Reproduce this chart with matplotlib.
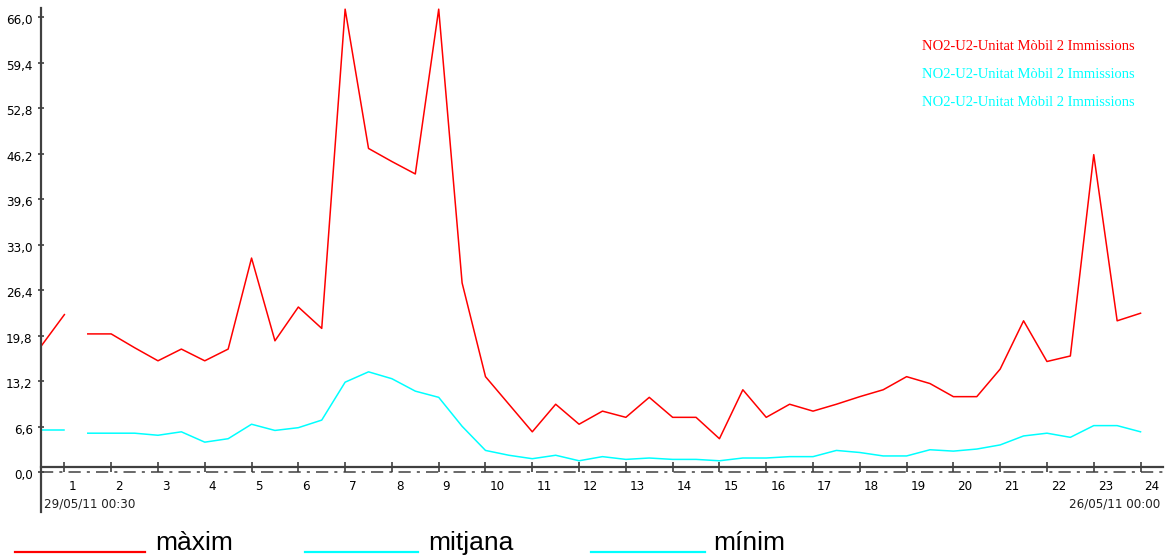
import numpy as np
from matplotlib import pyplot as plt
from matplotlib.lines import Line2D
import matplotlib.transforms as mtransforms

# half-hourly positions on the 1..24 axis
hours = np.arange(0.5, 24.01, 0.5)
maxim = [18.3, 22.9, 20.1, 20.1, 18.1, 16.2, 17.9, 16.2, 17.9, 31.1, 19.1, 24.0,
         20.9, 67.2, 47.0, 45.1, 43.3, 67.2, 27.5, 13.9, 9.9, 5.9, 9.9, 7.0,
         8.9, 8.0, 10.9, 8.0, 8.0, 4.9, 12.0, 8.0, 9.9, 8.9, 9.9, 11.0,
         12.0, 13.9, 12.9, 11.0, 11.0, 15.0, 22.0, 16.1, 16.9, 46.1, 22.0, 23.1]
mitjana = [6.1, 6.1, 5.7, 5.7, 5.7, 5.4, 5.9, 4.4, 4.9, 7.0, 6.1, 6.5,
           7.6, 13.1, 14.6, 13.6, 11.8, 10.9, 6.7, 3.2, 2.5, 2.0, 2.5, 1.7,
           2.3, 1.9, 2.1, 1.9, 1.9, 1.7, 2.1, 2.1, 2.3, 2.3, 3.2, 2.9,
           2.4, 2.4, 3.3, 3.1, 3.4, 4.0, 5.3, 5.7, 5.1, 6.8, 6.8, 5.9]
gap_after = 2  # no data between the 2nd and 3rd sample

yticks = [0.0, 6.6, 13.2, 19.8, 26.4, 33.0, 39.6, 46.2, 52.8, 59.4, 66.0]
xticks = list(range(1, 25))
series_name = "NO2-U2-Unitat Mòbil 2 Immissions"
legend_labels = ["màxim", "mitjana", "mínim"]
start_label = "29/05/11 00:30"
end_label = "26/05/11 00:00"

RED = "#ff0000"
CYAN = "#00ffff"
AXC = "#404040"
small = dict(fontfamily="DejaVu Sans", fontstretch="condensed", fontsize=9.5)

W, H = 1171, 559
fig = plt.figure(figsize=(W / 100, H / 100), dpi=100)
ax = fig.add_axes([41 / W, 1 - 512 / H, (1163 - 41) / W, (512 - 8) / H])

x = np.array(hours)
for vals, col in [(maxim, RED), (mitjana, CYAN)]:
    v = np.array(vals)
    ax.plot(x[:gap_after], v[:gap_after], color=col, lw=1.1)
    ax.plot(x[gap_after:], v[gap_after:], color=col, lw=1.1)

ax.set_xlim(0.5, 24.48)
ax.set_ylim(-5.73, 67.37)

for s in ["top", "right"]:
    ax.spines[s].set_visible(False)
ax.spines["left"].set_color(AXC)
ax.spines["left"].set_linewidth(1.6)
ax.spines["bottom"].set_position(("data", 0.84))
ax.spines["bottom"].set_color(AXC)
ax.spines["bottom"].set_linewidth(1.6)
ax.axhline(0, color=AXC, lw=1.1, ls=(0, (8, 4, 2, 4)))

ax.set_yticks(yticks)
ax.set_yticklabels([f"{t:.1f}".replace(".", ",") for t in yticks], **small)
ax.tick_params(axis="y", direction="inout", length=4, width=1.2, color=AXC, pad=4)
yoff = mtransforms.ScaledTranslation(0, -2 / 100, fig.dpi_scale_trans)
for lbl in ax.get_yticklabels():
    lbl.set_transform(lbl.get_transform() + yoff)

ax.set_xticks(xticks)
ax.set_xticklabels([str(t) for t in xticks], **small)
ax.tick_params(axis="x", direction="inout", length=7, width=1.2, color=AXC, pad=6)
off = mtransforms.ScaledTranslation(4 / 100, 0, fig.dpi_scale_trans)
for lbl in ax.get_xticklabels():
    lbl.set_ha("left")
    lbl.set_transform(lbl.get_transform() + off)

fig.text(44 / W, 1 - 504 / H, start_label, ha="left", va="center",
         color="#202020", **small)
fig.text(1160 / W, 1 - 504 / H, end_label, ha="right", va="center",
         color="#202020", **small)

for i, col in enumerate([RED, CYAN, CYAN]):
    fig.text(922 / W, 1 - (46 + 28.5 * i) / H, series_name, color=col,
             fontfamily="Liberation Serif", fontsize=10.5, ha="left", va="center")

# bottom legend
leg = [(15, 145, 155, RED), (305, 418, 428, CYAN), (591, 705, 713, CYAN)]
for (x0, x1, tx, col), lab in zip(leg, legend_labels):
    yy = 1 - 552 / H
    fig.add_artist(Line2D([x0 / W, x1 / W], [yy, yy], color=col, lw=1.6,
                          transform=fig.transFigure))
    fig.text(tx / W, 1 - 550 / H, lab, fontfamily="Liberation Sans", fontsize=19,
             ha="left", va="baseline", color="black")

fig.savefig("out.png", dpi=100)
